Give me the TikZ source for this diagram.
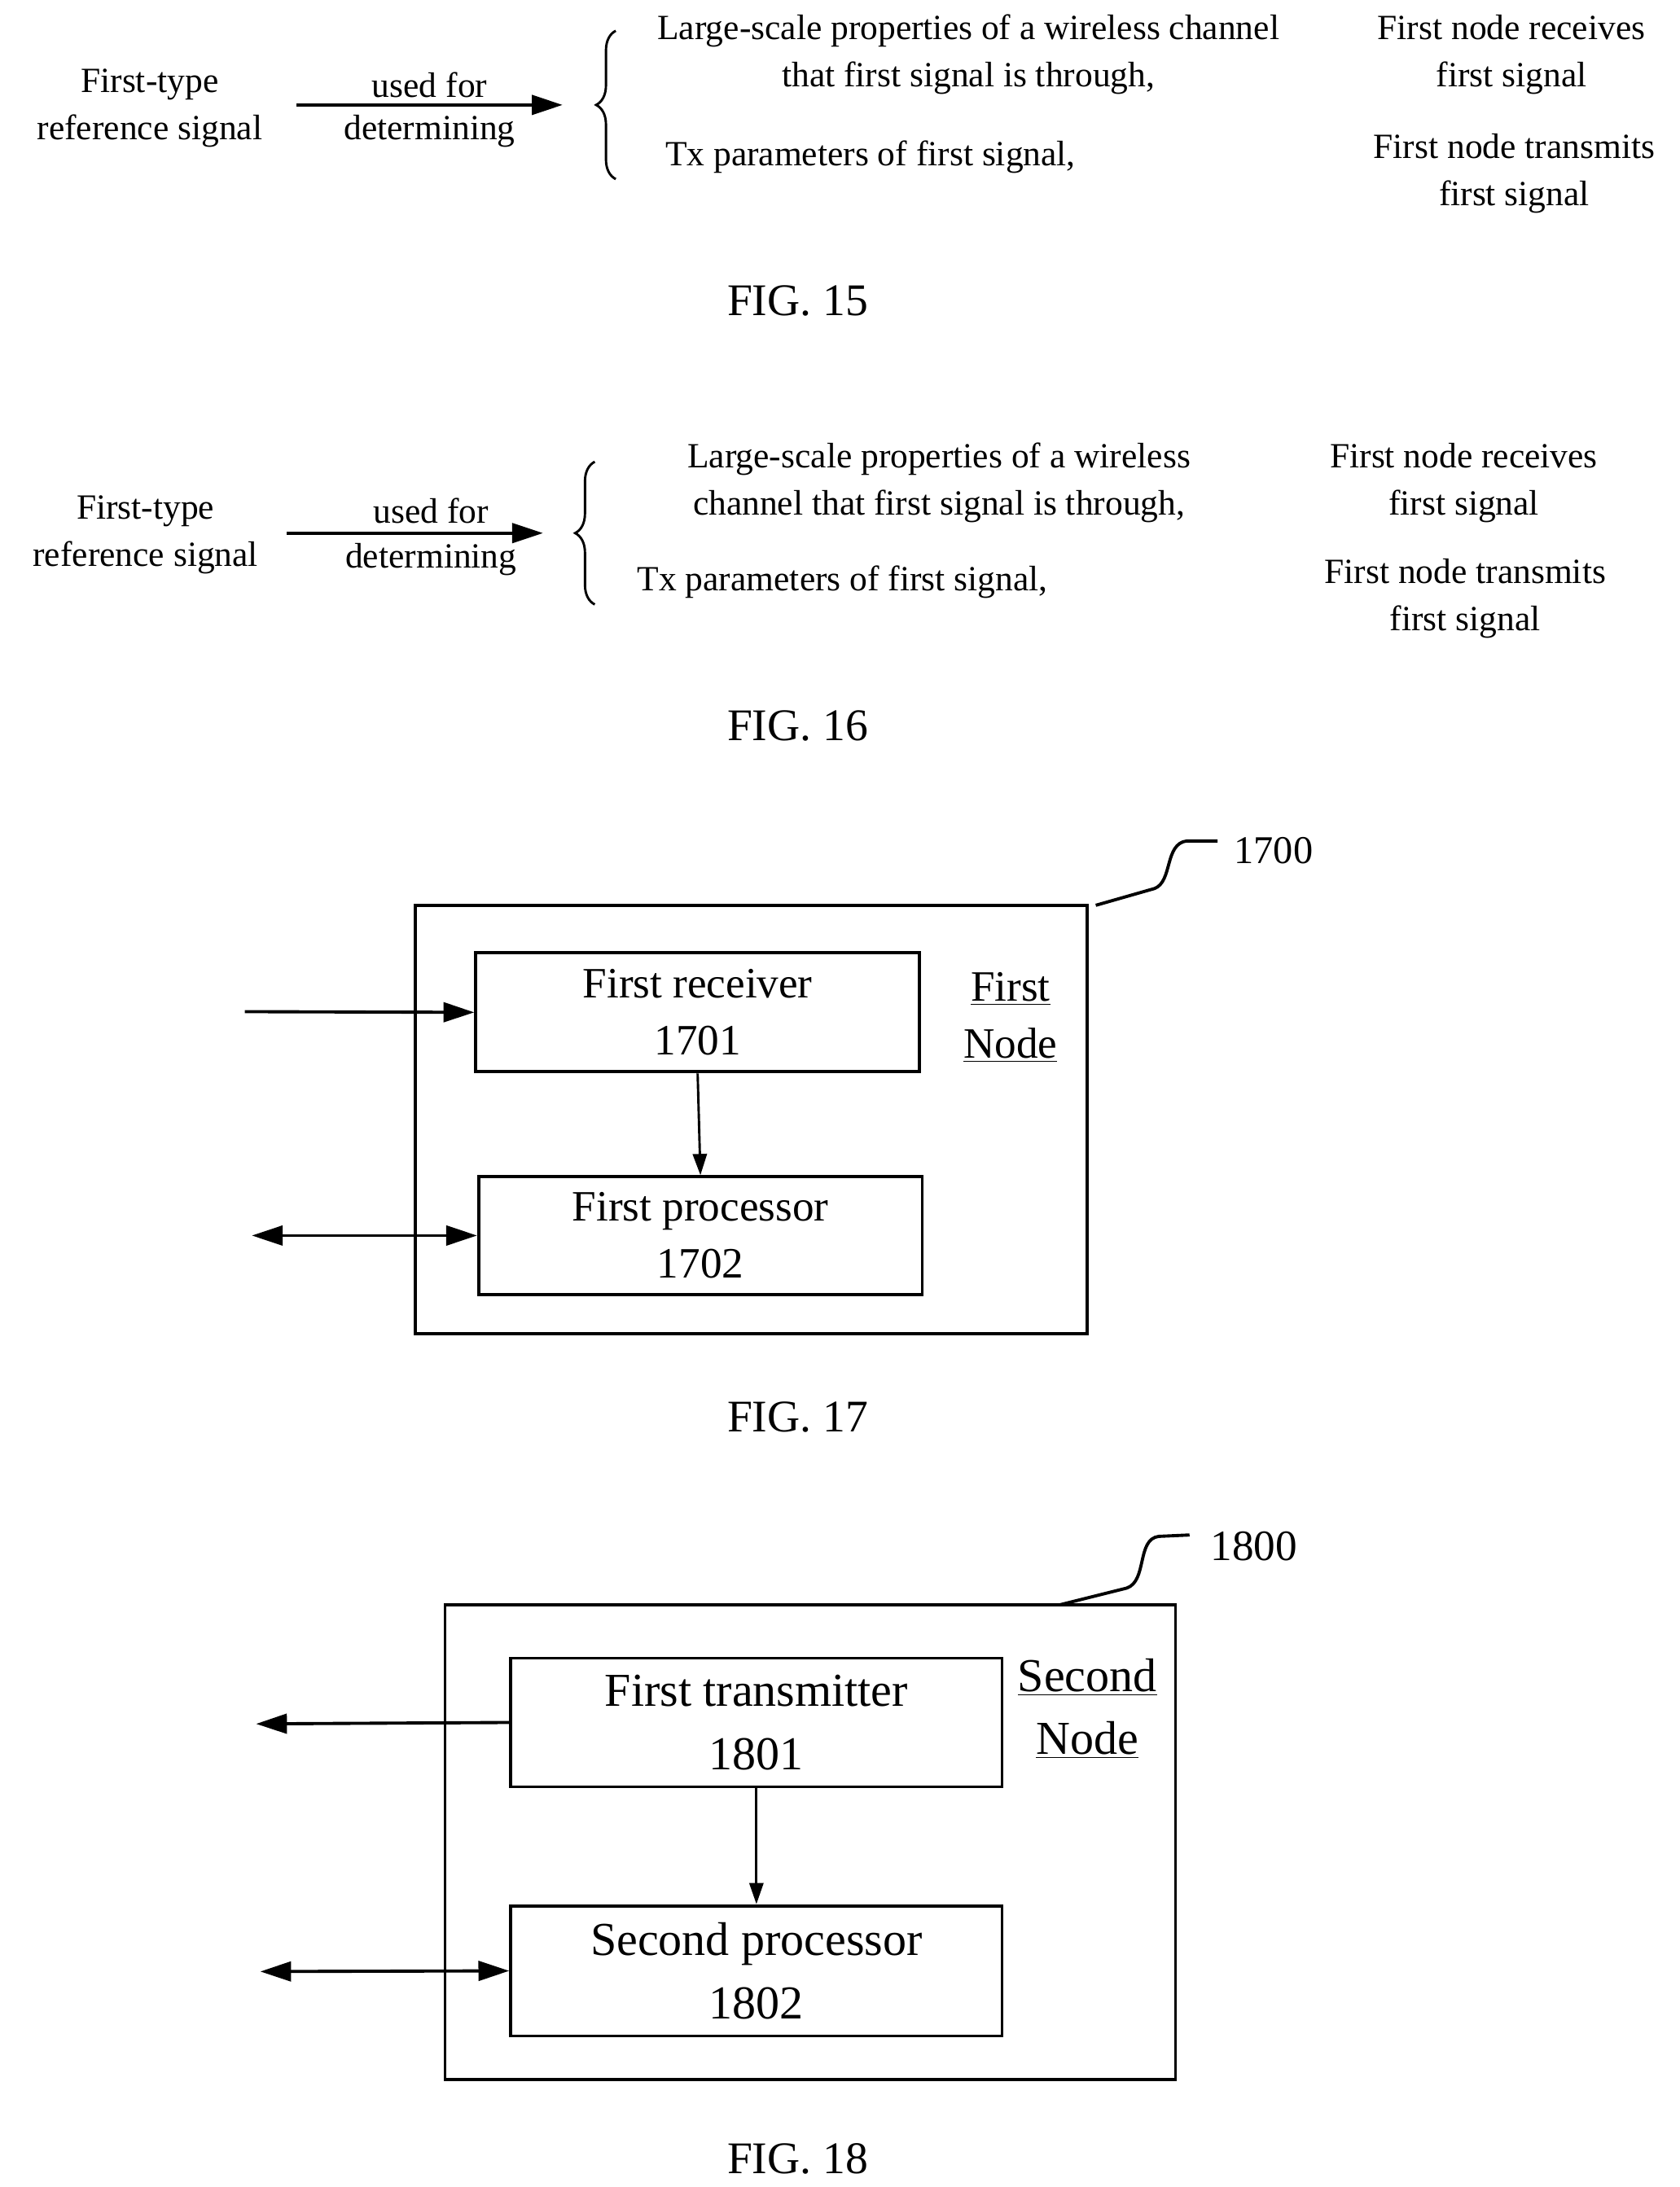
\documentclass[tikz,border=0pt]{standalone}
\usepackage{fontspec}
\setmainfont{Liberation Serif}
\usetikzlibrary{arrows.meta,decorations.pathreplacing}
\tikzset{
	lbl/.style={align=center,font=\fontsize{18}{24}\selectfont,inner sep=0pt},
	figcap/.style={font=\fontsize{23}{28}\selectfont,inner sep=0pt},
	blk/.style={draw,line width=1.6pt,align=center,inner sep=0pt},
	wire/.style={line width=1.6pt,-{Triangle[length=0.55cm,width=0.35cm]}},
	dwire/.style={line width=1.6pt,{Triangle[length=0.55cm,width=0.35cm]}-{Triangle[length=0.55cm,width=0.35cm]}},
	swire/.style={line width=1.2pt,-{Triangle[length=0.38cm,width=0.25cm]}},
	brc/.style={decorate,decoration={brace,amplitude=0.35cm},line width=1.2pt}
}
\begin{document}
\begin{tikzpicture}[x=0.025cm,y=-0.025cm]
	\useasboundingbox (0,0) rectangle (1200,1563);
	% FIG. 15
	\node[lbl] (rs15) at (107,77) {First-type\\reference signal};
	\coordinate (a15s) at (212,75);
	\coordinate (a15e) at (402,75);
	\draw[wire] (a15s) -- (a15e);
	\node[lbl] (uf15) at (307,61) {used for};
	\node[lbl] (dt15) at (307,94) {determining};
	\coordinate (b15a) at (440,128);
	\coordinate (b15b) at (440,22);
	\draw[brc] (b15a) -- (b15b);
	\node[lbl] (lp15) at (692,39) {Large-scale properties of a wireless channel\\that first signal is through,};
	\node[lbl] (tx15) at (622,112) {Tx parameters of first signal,};
	\node[lbl] (rx15) at (1080,39) {First node receives\\first signal};
	\node[lbl] (tr15) at (1082,124) {First node transmits\\first signal};
	\node[figcap] (f15) at (570,215) {FIG. 15};
	% FIG. 16
	\node[lbl] (rs16) at (104,382) {First-type\\reference signal};
	\coordinate (a16s) at (205,381);
	\coordinate (a16e) at (388,381);
	\draw[wire] (a16s) -- (a16e);
	\node[lbl] (uf16) at (308,365) {used for};
	\node[lbl] (dt16) at (308,400) {determining};
	\coordinate (b16a) at (425,432);
	\coordinate (b16b) at (425,330);
	\draw[brc] (b16a) -- (b16b);
	\node[lbl] (lp16) at (671,345) {Large-scale properties of a wireless\\channel that first signal is through,};
	\node[lbl] (tx16) at (602,416) {Tx parameters of first signal,};
	\node[lbl] (rx16) at (1046,345) {First node receives\\first signal};
	\node[lbl] (tr16) at (1047,428) {First node transmits\\first signal};
	\node[figcap] (f16) at (570,519) {FIG. 16};
	% FIG. 17
	\draw[line width=1.6pt] (297,647) rectangle (777,953);
	\node[blk,minimum width=317*0.025cm,minimum height=85*0.025cm,font=\fontsize{22}{29}\selectfont] (rcv) at (498.5,723.5) {First receiver\\1701};
	\node[blk,minimum width=317*0.025cm,minimum height=84*0.025cm,font=\fontsize{22}{29}\selectfont] (prc) at (500.5,883) {First processor\\1702};
	\node[lbl,font=\fontsize{22}{29}\selectfont] (fn) at (722,727) {\underline{First}\\\underline{Node}};
	\coordinate (in17) at (175,723);
	\coordinate (io17) at (180,883);
	\draw[wire] (in17) -- (rcv.west);
	\draw[dwire] (io17) -- (prc.west);
	\draw[swire] (rcv.south) -- (prc.north);
	\coordinate (c17) at (783,647);
	\draw[line width=1.6pt] (c17) -- (825,635) .. controls (838,630) and (832,603) .. (848,601) -- (870,601);
	\node[figcap,font=\fontsize{20}{24}\selectfont] (n1700) at (910,608) {1700};
	\node[figcap] (f17) at (570,1013) {FIG. 17};
	% FIG. 18
	\draw[line width=1.6pt] (318,1147) rectangle (840,1486);
	\node[blk,minimum width=351*0.025cm,minimum height=92*0.025cm,font=\fontsize{24}{32}\selectfont] (tx) at (540.5,1231) {First transmitter\\1801};
	\node[blk,minimum width=351*0.025cm,minimum height=93*0.025cm,font=\fontsize{24}{32}\selectfont] (sp) at (540.5,1408.5) {Second processor\\1802};
	\node[lbl,font=\fontsize{24}{32}\selectfont] (sn) at (777,1221) {\underline{Second}\\\underline{Node}};
	\coordinate (out18) at (183,1232);
	\coordinate (io18) at (186,1409);
	\draw[wire] (tx.west) -- (out18);
	\draw[dwire] (io18) -- (sp.west);
	\draw[swire] (tx.south) -- (sp.north);
	\coordinate (c18) at (757,1147);
	\draw[line width=1.6pt] (c18) -- (805,1135) .. controls (820,1130) and (812,1100) .. (828,1098) -- (850,1097);
	\node[figcap,font=\fontsize{22}{26}\selectfont] (n1800) at (896,1105) {1800};
	\node[figcap] (f18) at (570,1543) {FIG. 18};
\end{tikzpicture}
\end{document}
